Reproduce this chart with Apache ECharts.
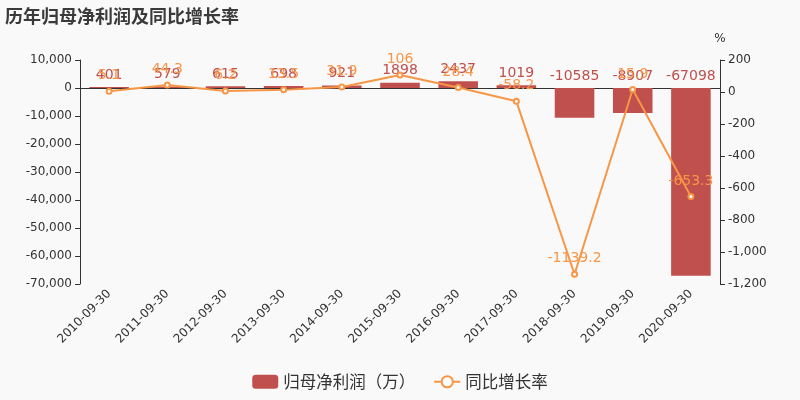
<!DOCTYPE html>
<html><head><meta charset="utf-8">
<script src="https://cdn.jsdelivr.net/npm/echarts@6/dist/echarts.min.js"></script>
<style>html,body{margin:0;padding:0;background:#f9f9f9}#c{width:800px;height:400px}</style>
</head><body><div id="c"></div>
<script>
const categories = ['2010-09-30','2011-09-30','2012-09-30','2013-09-30','2014-09-30','2015-09-30','2016-09-30','2017-09-30','2018-09-30','2019-09-30','2020-09-30'];
const profit = [401, 579, 615, 698, 921, 1898, 2437, 1019, -10585, -8907, -67098];
const growth = [5.1, 44.3, 6.2, 13.5, 31.9, 106, 28.4, -58.2, -1139.2, 15.9, -653.3];
const FONT = "'DejaVu Sans', 'Noto Sans CJK SC', sans-serif";
const CJK = "'Noto Sans CJK SC', sans-serif";
const chart = echarts.init(document.getElementById('c'));
chart.setOption({
  backgroundColor: '#f9f9f9',
  textStyle: {fontFamily: FONT},
  title: {text: '历年归母净利润及同比增长率', left: 0, top: 2, textStyle: {fontSize: 18, fontWeight: 'bold', color: '#3a3a3a', fontFamily: CJK}},
  legend: {bottom: 5, left: 'center', itemWidth: 26, itemHeight: 14, itemGap: 18,
    textStyle: {fontSize: 16.5, color: '#333', fontFamily: CJK},
    data: ['归母净利润（万）', '同比增长率']},
  grid: {left: 80, right: 80, top: 60, bottom: 116},
  xAxis: {type: 'category', data: categories,
    axisLine: {lineStyle: {color: '#333'}}, axisTick: {lineStyle: {color: '#333'}},
    axisLabel: {rotate: 45, color: '#333', fontSize: 12, interval: 0, fontFamily: FONT}},
  yAxis: [
    {type: 'value', min: -70000, max: 10000, interval: 10000, splitLine: {show: false},
      axisLine: {show: true, lineStyle: {color: '#333'}}, axisTick: {show: true},
      axisLabel: {color: '#333', fontSize: 12, fontFamily: FONT}},
    {type: 'value', name: '%', nameTextStyle: {color: '#333', fontSize: 12, fontFamily: FONT},
      min: -1200, max: 200, interval: 200, splitLine: {show: false},
      axisLine: {show: true, lineStyle: {color: '#333'}}, axisTick: {show: true},
      axisLabel: {color: '#333', fontSize: 12, fontFamily: FONT}}
  ],
  series: [
    {name: '归母净利润（万）', type: 'bar', data: profit, barWidth: '68%', yAxisIndex: 0,
      itemStyle: {color: '#c0504d'},
      label: {show: true, position: 'top', color: '#c0504d', fontSize: 14, fontFamily: FONT, distance: 5}},
    {name: '同比增长率', type: 'line', data: growth, yAxisIndex: 1,
      symbol: 'emptyCircle', symbolSize: 5,
      lineStyle: {color: '#f79646', width: 2}, itemStyle: {color: '#f79646'},
      label: {show: true, position: 'top', color: '#f79646', fontSize: 14, fontFamily: FONT}}
  ]
});
</script></body></html>
